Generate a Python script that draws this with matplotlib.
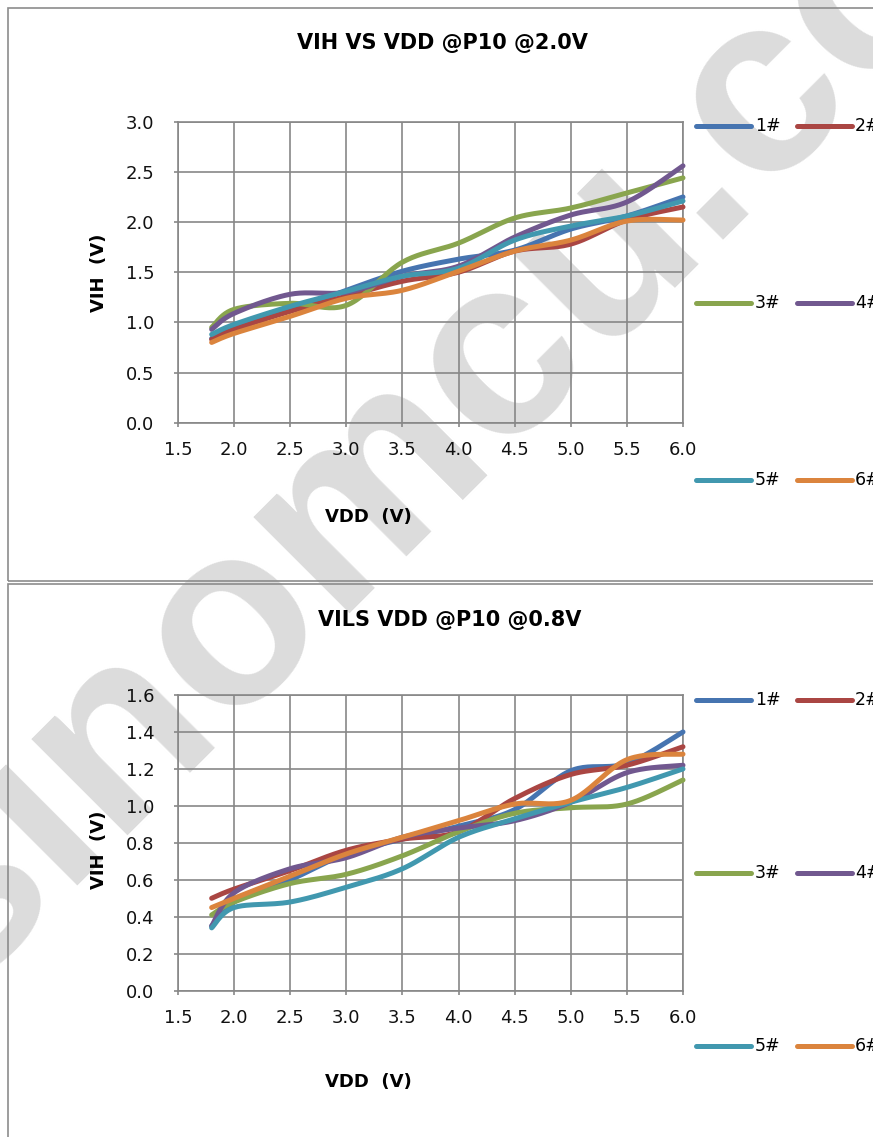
import numpy as np
import matplotlib
matplotlib.use("Agg")
import matplotlib.pyplot as plt
from matplotlib.lines import Line2D
from matplotlib.patches import Rectangle
from matplotlib.transforms import Bbox, TransformedBbox

# ---------------- data ----------------
vdd = [1.8, 2.0, 2.5, 3.0, 3.5, 4.0, 4.5, 5.0, 5.5, 6.0]
series_names = ["1#", "2#", "3#", "4#", "5#", "6#"]
colors = ["#4674B0", "#AA4643", "#89A54E", "#71588F", "#4198AF", "#DB843D"]

vih_1 = [0.84, 0.95, 1.12, 1.32, 1.51, 1.63, 1.72, 1.93, 2.06, 2.25]
vih_2 = [0.83, 0.93, 1.11, 1.26, 1.41, 1.50, 1.71, 1.78, 2.02, 2.15]
vih_3 = [0.95, 1.13, 1.19, 1.17, 1.60, 1.79, 2.04, 2.14, 2.29, 2.44]
vih_4 = [0.93, 1.09, 1.28, 1.30, 1.46, 1.56, 1.85, 2.07, 2.20, 2.56]
vih_5 = [0.88, 0.98, 1.16, 1.31, 1.46, 1.54, 1.82, 1.96, 2.06, 2.21]
vih_6 = [0.80, 0.89, 1.06, 1.24, 1.32, 1.51, 1.71, 1.82, 2.01, 2.02]

vil_1 = [0.35, 0.48, 0.60, 0.74, 0.82, 0.89, 0.98, 1.19, 1.23, 1.40]
vil_2 = [0.50, 0.55, 0.65, 0.76, 0.82, 0.86, 1.04, 1.17, 1.22, 1.32]
vil_3 = [0.41, 0.48, 0.58, 0.63, 0.73, 0.86, 0.96, 0.99, 1.01, 1.14]
vil_4 = [0.35, 0.53, 0.66, 0.72, 0.83, 0.88, 0.92, 1.02, 1.18, 1.22]
vil_5 = [0.34, 0.45, 0.48, 0.56, 0.66, 0.83, 0.93, 1.02, 1.10, 1.20]
vil_6 = [0.45, 0.50, 0.62, 0.74, 0.83, 0.92, 1.01, 1.03, 1.25, 1.28]

x_ticks = [1.5, 2.0, 2.5, 3.0, 3.5, 4.0, 4.5, 5.0, 5.5, 6.0]
y_ticks_top = [0.0, 0.5, 1.0, 1.5, 2.0, 2.5, 3.0]
y_ticks_bot = [0.0, 0.2, 0.4, 0.6, 0.8, 1.0, 1.2, 1.4, 1.6]

title_top = "VIH VS VDD @P10 @2.0V"
title_bot = "VILS VDD @P10 @0.8V"
xlabel = "VDD  (V)"
ylabel = "VIH  (V)"
watermark = "sinomcu.com"

# ---------------- helpers ----------------
W, H = 873, 1137
GRID = "#878787"


def smooth(x, y, n=24):
    """Excel-like smoothed line (cubic Bezier through points)."""
    p = np.column_stack([x, y]).astype(float)
    m = len(p)
    out = [p[0]]
    t = np.linspace(0, 1, n)[1:, None]
    for i in range(m - 1):
        p0 = p[i - 1] if i > 0 else p[i]
        p1 = p[i]
        p2 = p[i + 1]
        p3 = p[i + 2] if i + 2 < m else p[i + 1]
        c1 = p1 + (p2 - p0) / 6.0
        c2 = p2 - (p3 - p1) / 6.0
        seg = ((1 - t) ** 3) * p1 + 3 * ((1 - t) ** 2) * t * c1 + 3 * (1 - t) * t ** 2 * c2 + t ** 3 * p2
        out.extend(seg)
    out = np.array(out)
    return out[:, 0], out[:, 1]


def fx(px):
    return px / W


def fy(py):
    return 1 - py / H


plt.rcParams["font.family"] = ["DejaVu Sans"]

fig = plt.figure(figsize=(W / 100, H / 100), dpi=100)
fig.patch.set_facecolor("white")

panels = [
    dict(rect=[fx(178), fy(422.7), (683 - 178) / W, (422.7 - 121.7) / H],
         data=[vih_1, vih_2, vih_3, vih_4, vih_5, vih_6], ylim=(0, 3.0),
         yticks=y_ticks_top, title=title_top, title_xy=(442, 43),
         xlabel_xy=(368, 517), ylabel_xy=(99, 273),
         leg_rows=[126, 303, 480], clip=(0, 582)),
    dict(rect=[fx(178), fy(990.7), (683 - 178) / W, (990.7 - 695) / H],
         data=[vil_1, vil_2, vil_3, vil_4, vil_5, vil_6], ylim=(0, 1.6),
         yticks=y_ticks_bot, title=title_bot, title_xy=(450, 620),
         xlabel_xy=(368, 1082), ylabel_xy=(99, 850),
         leg_rows=[700, 873, 1046], clip=(582, 1137)),
]

for pn in panels:
    ax = fig.add_axes(pn["rect"])
    ax.set_facecolor("none")
    ax.set_xlim(1.5, 6.0)
    ax.set_ylim(*pn["ylim"])
    ax.set_xticks(x_ticks)
    ax.set_xticklabels([f"{v:.1f}" for v in x_ticks])
    ax.set_yticks(pn["yticks"])
    ax.set_yticklabels([f"{v:.1f}" for v in pn["yticks"]])
    ax.grid(True, color=GRID, linewidth=1.2)
    ax.set_axisbelow(True)
    for s in ax.spines.values():
        s.set_color(GRID)
        s.set_linewidth(1.2)
    ax.tick_params(axis="both", colors=GRID, length=3, width=1.2,
                   labelsize=13, labelcolor="#111111")
    ax.tick_params(axis="x", pad=10)
    ax.tick_params(axis="y", pad=14)

    # watermark (below grid and curves), clipped to this panel region
    wm = ax.text(fx(500), fy(360), watermark, transform=fig.transFigure,
                 rotation=45, ha="center", va="center", fontsize=185,
                 fontweight="bold", family=["Liberation Sans", "DejaVu Sans"],
                 color="#dcdcdc", zorder=0.1)
    c0, c1 = pn["clip"]
    wm.set_clip_box(TransformedBbox(Bbox([[0, fy(c1)], [1, fy(c0)]]), fig.transFigure))
    wm.set_clip_on(True)

    for vals, col in zip(pn["data"], colors):
        sx, sy = smooth(vdd, vals)
        ax.plot(sx, sy, color=col, lw=3.6, solid_capstyle="round",
                solid_joinstyle="round", zorder=3, clip_on=False)

    fig.text(fx(pn["title_xy"][0]), fy(pn["title_xy"][1]), pn["title"],
             ha="center", va="center", fontsize=15, fontweight="bold", color="black")
    fig.text(fx(pn["xlabel_xy"][0]), fy(pn["xlabel_xy"][1]), xlabel,
             ha="center", va="center", fontsize=13, fontweight="bold", color="black")
    fig.text(fx(pn["ylabel_xy"][0]), fy(pn["ylabel_xy"][1]), ylabel,
             ha="center", va="center", fontsize=13, fontweight="bold",
             rotation=90, color="black")

    # legend: 3 rows x 2 columns
    k = 0
    for row_y in pn["leg_rows"]:
        for lx, tx in [(696, 755), (797, 855)]:
            fig.add_artist(Line2D([fx(lx), fx(lx + 55)], [fy(row_y), fy(row_y)],
                                  transform=fig.transFigure, color=colors[k],
                                  lw=3.6, solid_capstyle="round"))
            fig.text(fx(tx), fy(row_y), series_names[k], ha="left", va="center",
                     fontsize=12.5, color="black")
            k += 1

# chart borders
fig.add_artist(Rectangle((fx(8), fy(581)), fx(900 - 8), (581 - 8) / H,
                         transform=fig.transFigure, fill=False,
                         edgecolor="#8c8c8c", lw=1.2, clip_on=False))
fig.add_artist(Rectangle((fx(8), fy(1200)), fx(900 - 8), (1200 - 584) / H,
                         transform=fig.transFigure, fill=False,
                         edgecolor="#8c8c8c", lw=1.2, clip_on=False))

fig.savefig("out.png", dpi=100)
